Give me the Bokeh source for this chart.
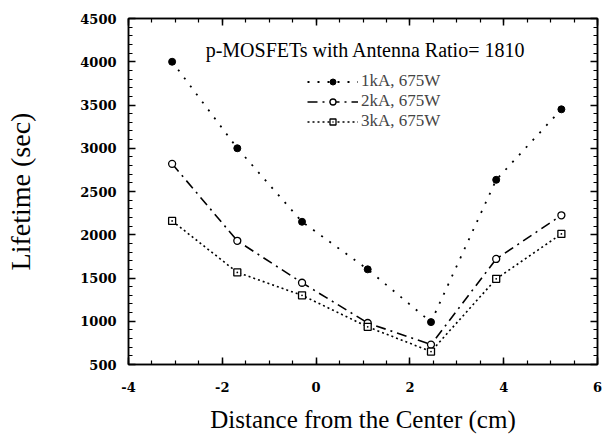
from bokeh.plotting import figure
from bokeh.models import (Range1d, LinearAxis, SingleIntervalTicker, Legend, LegendItem,
                          Label, CustomJSTickFormatter, ColumnDataSource)
from bokeh.embed import file_html
from bokeh.resources import INLINE

# Data
distance = [-3.07, -1.68, -0.30, 1.10, 2.45, 3.84, 5.23]
life_1kA = [4000, 3000, 2150, 1600, 990, 2635, 3450]
life_2kA = [2820, 1930, 1445, 980, 730, 1720, 2225]
life_3kA = [2160, 1565, 1300, 935, 650, 1490, 2010]
series_labels = ["1kA, 675W", "2kA, 675W", "3kA, 675W"]
title_text = "p-MOSFETs with Antenna Ratio= 1810"
x_label = "Distance from the Center (cm)"
y_label = "Lifetime (sec)"

p = figure(width=602, height=435, output_backend="svg", toolbar_location=None,
           x_range=Range1d(-4, 6), y_range=Range1d(500, 4500),
           min_border_left=128, min_border_right=5, min_border_top=18, min_border_bottom=5)
p.background_fill_color = "white"
p.border_fill_color = "white"
p.grid.visible = False
p.outline_line_color = "black"
p.outline_line_width = 1.5

serif = "Liberation Serif"
plain = CustomJSTickFormatter(code="return tick.toString()")

xa = p.xaxis[0]
xa.ticker = SingleIntervalTicker(interval=2, num_minor_ticks=4)
ya = p.yaxis[0]
ya.ticker = SingleIntervalTicker(interval=500, num_minor_ticks=5)
for ax in (xa, ya):
    ax.formatter = plain
    ax.major_tick_in = 7
    ax.major_tick_out = 0
    ax.minor_tick_in = 4
    ax.minor_tick_out = 0
    ax.axis_line_width = 1.5
    ax.major_tick_line_width = 1.5
    ax.minor_tick_line_width = 1.2
    ax.major_label_text_font = "DejaVu Serif"
    ax.major_label_text_font_style = "bold"
    ax.major_label_text_font_size = "13px"
    ax.major_label_text_color = "black"
    ax.axis_label_text_font = serif
    ax.axis_label_text_font_style = "normal"
    ax.axis_label_text_color = "black"
xa.axis_label = x_label
ya.axis_label = y_label
xa.axis_label_text_font_size = "25px"
ya.axis_label_text_font_size = "28px"
xa.major_label_standoff = 17
ya.major_label_standoff = 12
xa.axis_label_standoff = 11
ya.axis_label_standoff = 41

empty = CustomJSTickFormatter(code="return ''")
top = LinearAxis(ticker=SingleIntervalTicker(interval=2, num_minor_ticks=4), formatter=empty)
right = LinearAxis(ticker=SingleIntervalTicker(interval=500, num_minor_ticks=5), formatter=empty)
for ax in (top, right):
    ax.major_tick_in = 7
    ax.major_tick_out = 0
    ax.minor_tick_in = 4
    ax.minor_tick_out = 0
    ax.major_label_standoff = 0
    ax.major_label_text_font_size = "1px"
    ax.axis_line_width = 1.5
    ax.major_tick_line_width = 1.5
    ax.minor_tick_line_width = 1.2
p.add_layout(top, "above")
p.add_layout(right, "right")

src = ColumnDataSource(dict(x=distance, a=life_1kA, b=life_2kA, c=life_3kA))

l1 = p.line("x", "a", source=src, line_color="black", line_width=1.8, line_dash="2 8")
m1 = p.scatter("x", "a", source=src, marker="circle", size=7, fill_color="black", line_color="black")
l2 = p.line("x", "b", source=src, line_color="black", line_width=1.6, line_dash="10 5 2 5")
m2 = p.scatter("x", "b", source=src, marker="circle", size=7, fill_color="white", line_color="black", line_width=1.3)
l3 = p.line("x", "c", source=src, line_color="black", line_width=1.6, line_dash="2 3")
m3 = p.scatter("x", "c", source=src, marker="square_dot", size=7, fill_color="white", line_color="black", line_width=1.3)

rows = [(series_labels[0], [l1, m1], 273),
        (series_labels[1], [l2, m2], 253),
        (series_labels[2], [l3, m3], 233)]
for lab, rends, ypos in rows:
    lg = Legend(items=[LegendItem(label=lab, renderers=rends)],
                location=(179, ypos), padding=0, margin=0, spacing=0,
                glyph_width=51, glyph_height=15, label_height=15, label_standoff=3,
                label_text_font=serif, label_text_font_size="17px",
                background_fill_alpha=0, border_line_alpha=0)
    p.add_layout(lg, "center")

p.add_layout(Label(x=-2.355, y=4131, text=title_text, text_font=serif,
                   text_font_size="20px", text_color="black", text_baseline="alphabetic"))

open("out.html", "w").write(file_html(p, INLINE))
